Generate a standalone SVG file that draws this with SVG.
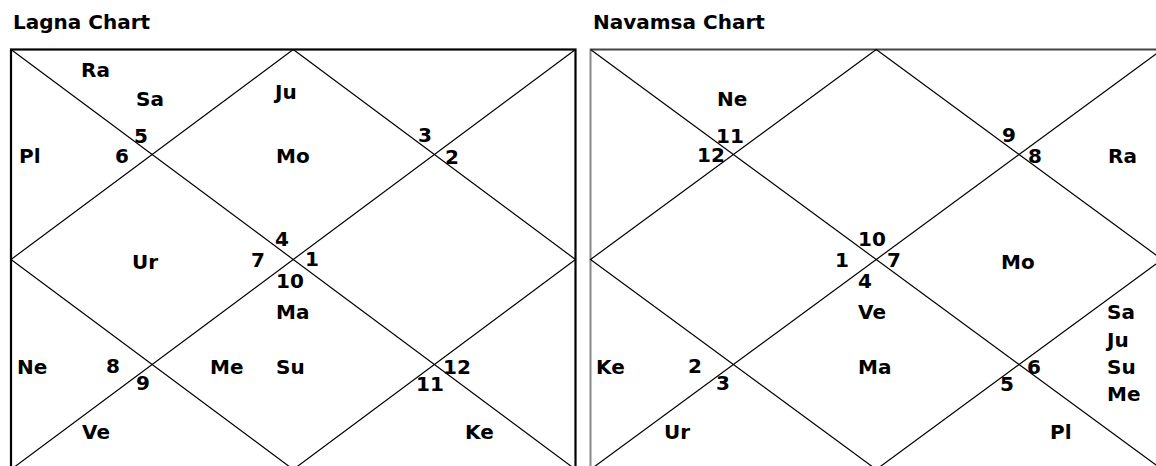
<svg xmlns="http://www.w3.org/2000/svg" width="1156" height="466" viewBox="0 0 1156 466">
<style>
text{font-family:"DejaVu Sans",Verdana,sans-serif;font-weight:bold;font-size:20px;fill:#000}
.t{font-size:20px}
.ln{stroke:#000;stroke-width:1.2;fill:none}
.bx{stroke:#000;stroke-width:2.2;fill:none}
.bx2{stroke:#444;stroke-width:2;fill:none}
.bl{stroke:#888;stroke-width:2;fill:none}
</style>
<rect width="1156" height="466" fill="#fff"/>
<g id="lagna-title"><text class="t" x="13" y="29">Lagna Chart</text></g>
<g id="navamsa-title"><text class="t" x="593" y="29">Navamsa Chart</text></g>
<g id="connectors">
<g id="lagna-lines">
<rect class="bx" x="11" y="49.5" width="564.5" height="420"/>
<line class="ln" x1="11" y1="49.5" x2="575.5" y2="469.5"/>
<line class="ln" x1="575.5" y1="49.5" x2="11" y2="469.5"/>
<polygon class="ln" points="293.25,49.5 575.5,259.5 293.25,469.5 11,259.5"/>
</g>
<g id="navamsa-lines">
<line class="bx2" x1="590.5" y1="49.5" x2="1160" y2="49.5"/>
<line class="bl" x1="590.5" y1="48.5" x2="590.5" y2="470"/>
<line class="ln" x1="590.5" y1="49.5" x2="1162" y2="469.5"/>
<line class="ln" x1="1162" y1="49.5" x2="590.5" y2="469.5"/>
<polygon class="ln" points="876.25,49.5 1162,259.5 876.25,469.5 590.5,259.5"/>
</g>
</g>
<g id="lagna-houses">
<g id="l-h5"><text x="81" y="77">Ra</text><text x="136" y="106">Sa</text><text x="134" y="143">5</text></g>
<g id="l-h6"><text x="19" y="163">Pl</text><text x="115" y="163">6</text></g>
<g id="l-h4"><text x="275" y="99">Ju</text><text x="276" y="163">Mo</text><text x="275" y="246">4</text></g>
<g id="l-h3"><text x="418" y="142">3</text></g>
<g id="l-h2"><text x="445" y="164">2</text></g>
<g id="l-h7"><text x="132" y="269">Ur</text><text x="251" y="267">7</text></g>
<g id="l-h1"><text x="305" y="266">1</text></g>
<g id="l-h10"><text x="276" y="288">10</text><text x="276" y="319">Ma</text><text x="276" y="374">Su</text></g>
<g id="l-h8"><text x="17" y="374">Ne</text><text x="106" y="373">8</text></g>
<g id="l-h9"><text x="136" y="390">9</text><text x="82" y="439">Ve</text></g>
<g id="l-h11"><text x="210" y="374">Me</text><text x="416" y="391">11</text></g>
<g id="l-h12"><text x="443" y="374">12</text><text x="465" y="439">Ke</text></g>
</g>
<g id="navamsa-houses">
<g id="n-h11"><text x="717" y="106">Ne</text><text x="716" y="143">11</text></g>
<g id="n-h12"><text x="697" y="162">12</text></g>
<g id="n-h9"><text x="1002" y="142">9</text></g>
<g id="n-h8"><text x="1028" y="163">8</text><text x="1108" y="163">Ra</text></g>
<g id="n-h10"><text x="858" y="246">10</text></g>
<g id="n-h1"><text x="835" y="267">1</text></g>
<g id="n-h7"><text x="887" y="267">7</text><text x="1001" y="269">Mo</text></g>
<g id="n-h4"><text x="858" y="288">4</text><text x="858" y="319">Ve</text><text x="858" y="374">Ma</text></g>
<g id="n-h2"><text x="596" y="374">Ke</text><text x="688" y="373">2</text></g>
<g id="n-h3"><text x="716" y="390">3</text><text x="664" y="439">Ur</text></g>
<g id="n-h6"><text x="1027" y="374">6</text><text x="1107" y="319">Sa</text><text x="1107" y="347">Ju</text><text x="1107" y="374">Su</text><text x="1107" y="401">Me</text></g>
<g id="n-h5"><text x="1000" y="391">5</text><text x="1050" y="439">Pl</text></g>
</g>
</svg>
